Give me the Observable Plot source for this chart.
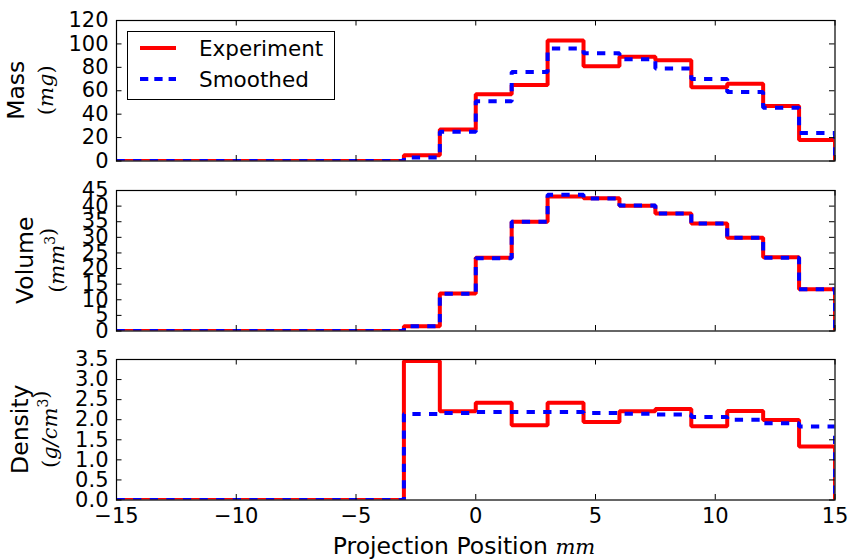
<!DOCTYPE html>
<html>
<head>
<meta charset="utf-8">
<script src="https://cdn.jsdelivr.net/npm/d3@7"></script>
<script src="https://cdn.jsdelivr.net/npm/@observablehq/plot@0.6"></script>
<style>
  html, body { margin: 0; padding: 0; background: #fff; }
  #chart { position: relative; width: 856px; height: 560px; overflow: hidden; }
  #chart svg { position: absolute; left: 0; overflow: visible; }
</style>
</head>
<body>
<div id="chart"></div>
<script>
// Bin left edges (last entry is the right end where the step drops to 0)
const binEdges = [-15, -13.5, -12, -10.5, -9, -7.5, -6, -4.5, -3, -1.5, 0, 1.5, 3, 4.5, 6, 7.5, 9, 10.5, 12, 13.5, 15];

const massExperiment   = [0, 0, 0, 0, 0, 0, 0, 0, 5, 27, 57, 65, 103, 81, 89, 86, 63, 66, 47, 18, 0];
const massSmoothed     = [0, 0, 0, 0, 0, 0, 0, 0, 3, 25, 51, 76, 96, 92, 87, 79, 70, 59, 45.5, 24, 0];
const volumeExperiment = [0, 0, 0, 0, 0, 0, 0, 0, 1.5, 12, 23.5, 35, 43.1, 42.5, 40.1, 37.6, 34.4, 29.9, 23.6, 13.4, 0];
const volumeSmoothed   = [0, 0, 0, 0, 0, 0, 0, 0, 1.5, 11.9, 23.3, 35, 43.6, 42.4, 40.2, 37.6, 34.4, 29.9, 23.5, 13.4, 0];
const densityExperiment= [0, 0, 0, 0, 0, 0, 0, 0, 3.46, 2.21, 2.42, 1.86, 2.42, 1.94, 2.21, 2.27, 1.84, 2.22, 1.99, 1.33, 0];
const densitySmoothed  = [0, 0, 0, 0, 0, 0, 0, 0, 2.14, 2.17, 2.19, 2.19, 2.19, 2.17, 2.15, 2.13, 2.07, 2.00, 1.91, 1.83, 0];

const xTicks = [-15, -10, -5, 0, 5, 10, 15];
const massTicks = [0, 20, 40, 60, 80, 100, 120];
const volumeTicks = [0, 5, 10, 15, 20, 25, 30, 35, 40, 45];
const densityTicks = [0, 0.5, 1, 1.5, 2, 2.5, 3, 3.5];

const seriesNames = ["Experiment", "Smoothed"];
const seriesColors = ["#ff0000", "#0000ff"];

const W = 856, ML = 116, MR = 21.5, MT = 20, PH = 140.5;
const PW = W - ML - MR;
const TICK = 5.5;
const minus = d => (d < 0 ? "\u2212" + (-d) : String(d));

const chart = document.getElementById("chart");

function rows(vals) { return binEdges.map((x, i) => ({x, y: vals[i]})); }

function panel({top, domain, ticks, fmt, exp, smooth, title, unitParts, titleX, unitX, bottom}) {
  const MB = bottom ? 60 : 10;
  const marks = [
    Plot.line(rows(exp), {x: "x", y: "y", curve: "step-after", stroke: seriesColors[0],
      strokeWidth: 4, strokeLinejoin: "miter", strokeLinecap: "butt", clip: true}),
    Plot.line(rows(smooth), {x: "x", y: "y", curve: "step-after", stroke: seriesColors[1],
      strokeWidth: 4, strokeDasharray: "8.3,8.3", strokeLinejoin: "miter", strokeLinecap: "butt", clip: true}),
    Plot.frame({stroke: "black", strokeWidth: 1.2}),
    Plot.tickY(ticks, {y: d => d, insetRight: PW - TICK, stroke: "black", strokeWidth: 1}),
    Plot.tickY(ticks, {y: d => d, insetLeft: PW - TICK, stroke: "black", strokeWidth: 1}),
    Plot.tickX(xTicks, {x: d => d, insetTop: PH - TICK, stroke: "black", strokeWidth: 1}),
    Plot.tickX(xTicks, {x: d => d, insetBottom: PH - TICK, stroke: "black", strokeWidth: 1}),
    Plot.axisY({ticks, tickSize: 0, tickPadding: 8, tickFormat: fmt, label: null, fontSize: 21})
  ];
  if (bottom) {
    marks.push(Plot.axisX({ticks: xTicks, tickSize: 0, tickPadding: 8, tickFormat: minus, label: null, fontSize: 21}));
  }
  const svg = Plot.plot({
    width: W,
    height: MT + PH + MB,
    marginLeft: ML, marginRight: MR, marginTop: MT, marginBottom: MB,
    style: {fontFamily: "DejaVu Sans", fontSize: "21px", background: "transparent", color: "black"},
    x: {domain: [-15, 15], axis: bottom ? undefined : null},
    y: {domain},
    marks
  });
  svg.style.top = (top - MT) + "px";
  const g = d3.select(svg);
  const cy = MT + PH / 2;
  // y label: title line
  g.append("text")
    .attr("transform", `translate(${titleX},${cy}) rotate(-90)`)
    .attr("text-anchor", "middle")
    .attr("font-family", "DejaVu Sans").attr("font-size", 23.5).attr("fill", "black")
    .text(title);
  // y label: unit line (math style)
  const t = g.append("text")
    .attr("transform", `translate(${unitX},${cy}) rotate(-90)`)
    .attr("text-anchor", "middle")
    .attr("font-family", "DejaVu Serif").attr("font-size", 21).attr("fill", "black");
  unitParts.forEach(([s, style]) => {
    const ts = t.append("tspan").text(s);
    if (style === "i") ts.attr("font-style", "italic");
    if (style === "sup") ts.attr("font-size", 14).attr("dy", -9);
  });
  chart.appendChild(svg);
  return svg;
}

const s1 = panel({top: 20, domain: [0, 120], ticks: massTicks, fmt: d => String(d),
  exp: massExperiment, smooth: massSmoothed, title: "Mass",
  unitParts: [["(", ""], ["mg", "i"], [")", ""]], titleX: 24, unitX: 53});

const s2 = panel({top: 189.5, domain: [0, 45], ticks: volumeTicks, fmt: d => String(d),
  exp: volumeExperiment, smooth: volumeSmoothed, title: "Volume",
  unitParts: [["(", ""], ["mm", "i"], ["3", "sup"], [")", ""]], titleX: 33, unitX: 64});

const s3 = panel({top: 359, domain: [0, 3.5], ticks: densityTicks, fmt: d3.format(".1f"),
  exp: densityExperiment, smooth: densitySmoothed, title: "Density",
  unitParts: [["(", ""], ["g/cm", "i"], ["3", "sup"], [")", ""]], titleX: 27.5, unitX: 57, bottom: true});

// x axis label on bottom panel
{
  const g = d3.select(s3);
  const t = g.append("text")
    .attr("x", 464).attr("y", MT + PH + 54)
    .attr("text-anchor", "middle")
    .attr("font-family", "DejaVu Sans").attr("font-size", 23.5).attr("fill", "black");
  t.append("tspan").text("Projection Position ");
  t.append("tspan").attr("font-family", "DejaVu Serif").attr("font-style", "italic").attr("font-size", 21).text("mm");
}

// legend in top panel (upper left)
{
  const g = d3.select(s1).append("g").attr("text-anchor", "start");
  g.append("rect").attr("x", 127.5).attr("y", 31.5).attr("width", 207).attr("height", 68)
    .attr("fill", "white").attr("stroke", "black").attr("stroke-width", 1);
  const ys = [48, 79];
  seriesNames.forEach((name, i) => {
    const ln = g.append("line").attr("x1", 140).attr("x2", 176).attr("y1", ys[i]).attr("y2", ys[i])
      .attr("stroke", seriesColors[i]).attr("stroke-width", 4);
    if (i === 1) ln.attr("stroke-dasharray", "8.3,6");
    g.append("text").attr("x", 199).attr("y", ys[i] + 8)
      .attr("text-anchor", "start")
      .attr("font-family", "DejaVu Sans").attr("font-size", 21.5).attr("fill", "black")
      .text(name);
  });
}
</script>
</body>
</html>
